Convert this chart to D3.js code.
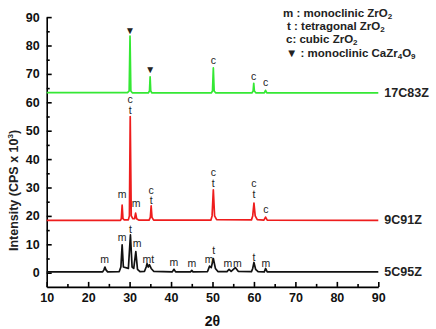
<!DOCTYPE html>
<html>
<head>
<meta charset="utf-8">
<script src="https://cdn.jsdelivr.net/npm/d3@7"></script>
<style>
  body { margin: 0; background: #fff; }
  svg { font-family: "Liberation Sans", Arial, sans-serif; }
</style>
</head>
<body>
<svg id="xrd" width="436" height="329"></svg>
<script>
const svg = d3.select('#xrd');

// 2theta / intensity (CPS x 10^3)
const s17C83Z = [
  [10, 63.4], [29.5, 63.4], [29.9, 64], [30.1, 83.3], [30.3, 64], [30.7, 63.3],
  [34.5, 63.3], [34.8, 64], [34.95, 69], [35.1, 64], [35.4, 63.3],
  [49.7, 63.3], [50.0, 64], [50.2, 72.1], [50.4, 64], [50.8, 63.3],
  [59.5, 63.3], [59.8, 64], [59.95, 66.7], [60.1, 64], [60.5, 63.3],
  [62.5, 63.3], [62.8, 64.2], [63.1, 63.3], [90, 63.3]
];
const s9C91Z = [
  [10, 18.4], [27.8, 18.4], [28.0, 19], [28.2, 23.8], [28.4, 19], [28.7, 18.6],
  [29.7, 18.6], [29.95, 20], [30.15, 55], [30.4, 20], [30.8, 19],
  [31.2, 19], [31.45, 21], [31.7, 19], [32.2, 18.5],
  [34.7, 18.5], [35.0, 19.5], [35.2, 23.5], [35.4, 19.5], [35.8, 18.5],
  [49.6, 18.5], [49.9, 20], [50.2, 29.2], [50.5, 20], [51, 18.7],
  [59.4, 18.6], [59.7, 20], [60, 24.5], [60.3, 20], [60.8, 18.7],
  [62.4, 18.5], [62.8, 19.6], [63.2, 18.5], [90, 18.4]
];
const s5C95Z = [
  [10, 0.3], [23.5, 0.3], [23.8, 1], [24.05, 2], [24.3, 1], [24.7, 0.3],
  [27.5, 0.4], [27.9, 2], [28.2, 9.8], [28.5, 2], [29.7, 1.5], [30.2, 13.3], [30.6, 2],
  [31, 1.5], [31.5, 7.4], [31.9, 1.2], [32.5, 0.4],
  [33.6, 0.5], [34.0, 2], [34.2, 3.2], [34.5, 2], [34.8, 2.8], [35.2, 1.5], [35.8, 0.5],
  [40.3, 0.3], [40.7, 1.2], [41.1, 0.3],
  [44.7, 0.3], [45, 0.8], [45.3, 0.3],
  [48.8, 0.4], [49.3, 2.3], [49.7, 1.8], [50.2, 5], [50.7, 1.5], [51.3, 0.4],
  [53.5, 0.4], [54, 1.2], [54.5, 0.5], [55.5, 1.8], [56.2, 0.5],
  [59.4, 0.4], [59.7, 1.5], [60, 3.6], [60.4, 1.2], [61, 0.4],
  [62.5, 0.3], [62.8, 1.5], [63.2, 0.3], [90, 0.3]
];

// phase marks: [2theta, intensity, text]
const marks17 = [[30.1, 85.3, '▼'], [34.95, 71.6, '▼'], [50.2, 74.8, 'c'], [59.95, 69.4, 'c'], [62.8, 67, 'c']];
const marks9 = [[30.15, 61.2, 'c'], [30.15, 57.4, 't'], [28.2, 27.7, 'm'], [31.6, 24.7, 'm'],
  [35.2, 29.2, 'c'], [35.2, 25.5, 't'], [50.2, 35.5, 'c'], [50.2, 31.7, 't'],
  [60, 31.6, 'c'], [60, 27.7, 't'], [62.9, 22.4, 'c']];
const marks5 = [[24, 4.7, 'm'], [28.2, 12.5, 'm'], [30.2, 15.3, 't'], [31.8, 10.4, 'm'],
  [34.5, 4.7, 'mt'], [40.7, 3.9, 'm'], [45, 3.3, 'm'], [49.2, 4.7, 'm'], [50.3, 8, 't'],
  [53.7, 3.3, 'm'], [56, 3.5, 'm'], [60, 5.4, 't'], [62.9, 3.5, 'm']];

const seriesNames = ['17C83Z', '9C91Z', '5C95Z'];
const seriesColors = ['#34e834', '#ee1d1d', '#111111'];
const xTicks = [10, 20, 30, 40, 50, 60, 70, 80, 90];
const yTicks = [0, 10, 20, 30, 40, 50, 60, 70, 80, 90];

const x = d3.scaleLinear().domain([10, 90]).range([46.7, 378.3]);
const y = d3.scaleLinear().domain([-5, 90]).range([286.9, 17.1]);

// axes (ticks point inward)
const gx = svg.append('g').attr('transform', `translate(0,${y(-5)})`);
gx.call(d3.axisBottom(x).tickValues(xTicks).tickSizeInner(-5).tickSizeOuter(0).tickPadding(6));
svg.append('g').attr('transform', `translate(0,${y(-5)})`)
  .call(d3.axisBottom(x).tickValues(d3.range(15, 90, 10)).tickSizeInner(-3).tickSizeOuter(0).tickFormat(''))
  .select('.domain').remove();

const gy = svg.append('g').attr('transform', `translate(${x(10)},0)`);
gy.call(d3.axisLeft(y).tickValues(yTicks).tickSizeInner(-5).tickSizeOuter(0).tickPadding(7));
svg.append('g').attr('transform', `translate(${x(10)},0)`)
  .call(d3.axisLeft(y).tickValues(d3.range(5, 90, 10)).tickSizeInner(-3).tickSizeOuter(0).tickFormat(''))
  .select('.domain').remove();

svg.selectAll('.domain, .tick line').attr('stroke', '#000').attr('stroke-width', 1.6);
svg.selectAll('.tick text')
  .attr('font-size', 12.5)
  .attr('font-weight', 'bold')
  .attr('fill', '#111')
  .attr('font-family', '"Liberation Sans", Arial, sans-serif');

// axis titles
svg.append('text')
  .attr('x', x(50)).attr('y', 326)
  .attr('text-anchor', 'middle')
  .attr('font-size', 14).attr('font-weight', 'bold').attr('fill', '#111')
  .text('2θ');

const yl = svg.append('text')
  .attr('transform', `translate(18,${y(30) + 3}) rotate(-90)`)
  .attr('text-anchor', 'middle')
  .attr('font-size', 12.5).attr('font-weight', 'bold').attr('fill', '#222');
yl.append('tspan').text('Intensity (CPS x 10');
yl.append('tspan').attr('font-size', 8).attr('dy', -5).text('3');
yl.append('tspan').attr('dy', 5).text(')');

// spectra
const line = d3.line().x(d => x(d[0])).y(d => y(d[1]));
const allSeries = [s17C83Z, s9C91Z, s5C95Z];
const allMarks = [marks17, marks9, marks5];

allSeries.forEach((s, i) => {
  svg.append('path')
    .attr('d', line(s))
    .attr('fill', 'none')
    .attr('stroke', seriesColors[i])
    .attr('stroke-width', 1.7)
    .attr('stroke-linejoin', 'round');

  svg.append('text')
    .attr('x', x(90) + 6)
    .attr('y', y(s[s.length - 1][1]))
    .attr('dominant-baseline', 'central')
    .attr('font-size', 12.5).attr('font-weight', 'bold').attr('fill', '#222')
    .text(seriesNames[i]);

  svg.selectAll(null)
    .data(allMarks[i])
    .enter()
    .append('text')
    .attr('x', d => x(d[0]))
    .attr('y', d => y(d[1]))
    .attr('text-anchor', 'middle')
    .attr('dominant-baseline', 'central')
    .attr('font-size', d => d[2] === '▼' ? 10 : 10.5)
    .attr('fill', '#222')
    .text(d => d[2]);
});

// legend
const legendRows = [
  ['m : monoclinic ZrO', '2'],
  ['t : tetragonal ZrO', '2'],
  ['c: cubic ZrO', '2'],
  ['▼ : monoclinic CaZr', '4', 'O', '9']
];
const legendX = [283, 287, 286, 286];
const lg = svg.append('g').attr('font-size', 11.5).attr('font-weight', 'bold').attr('fill', '#222');
legendRows.forEach((r, i) => {
  const t = lg.append('text')
    .attr('x', legendX[i]).attr('y', 17 + i * 13.2)
    .attr('xml:space', 'preserve');
  r.forEach((part, j) => {
    const sub = j % 2 === 1;
    const prevSub = j > 0 && !sub;
    t.append('tspan')
      .attr('font-size', sub ? 8 : 11.5)
      .attr('dy', sub ? 2 : (prevSub ? -2 : 0))
      .text(part);
  });
});
</script>
</body>
</html>
